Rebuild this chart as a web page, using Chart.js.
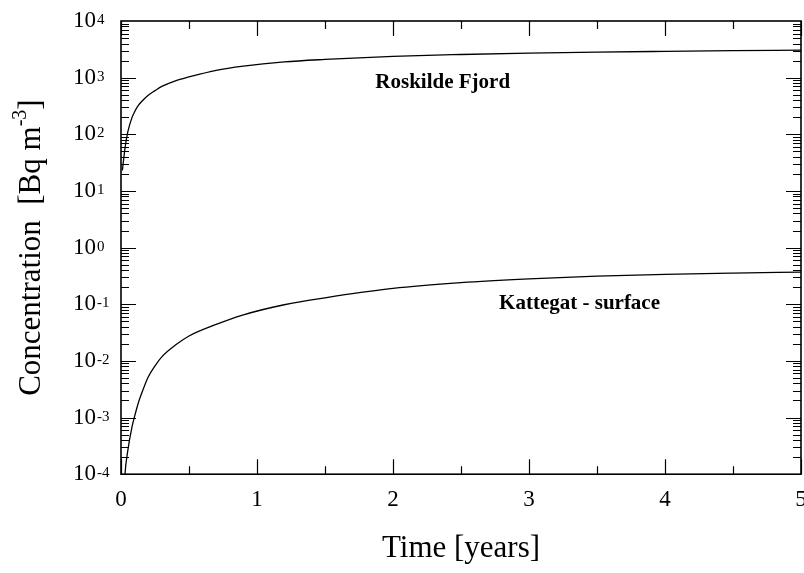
<!DOCTYPE html>
<html>
<head>
<meta charset="utf-8">
<script src="https://cdn.jsdelivr.net/npm/chart.js@4.4.1/dist/chart.umd.min.js"></script>
<style>
    body { margin: 0; background: #fff; }
    #wrap { width: 804px; height: 573px; position: relative; }
</style>
</head>
<body>
<div id="wrap"><canvas id="conc"></canvas></div>
<script>
// Time in years, concentrations in Bq m-3
const times = [0.01, 0.03, 0.05, 0.08, 0.1, 0.13, 0.15, 0.2, 0.25, 0.3, 0.4, 0.5, 0.7, 0.9, 1.2, 1.5, 2.0, 2.5, 3.0, 3.5, 4.0, 4.5, 5.0];
const roskilde = [23, 58, 110, 195, 250, 330, 375, 490, 590, 700, 880, 1030, 1350, 1600, 1900, 2100, 2380, 2560, 2700, 2820, 2910, 2990, 3060];
const kattegat = [1.2e-5, 1.05e-4, 2.6e-4, 6.7e-4, 1.05e-3, 1.9e-3, 2.6e-3, 5.2e-3, 8.2e-3, 0.0118, 0.019, 0.0275, 0.044, 0.065, 0.098, 0.13, 0.19, 0.24, 0.28, 0.313, 0.337, 0.355, 0.37];

// Axis ticks
const xTicks = [0, 0.5, 1, 1.5, 2, 2.5, 3, 3.5, 4, 4.5, 5];
const yExponents = [-4, -3, -2, -1, 0, 1, 2, 3, 4];

// Curve labels: [text, x (years), y (Bq m-3)]
const curveLabels = [
    ['Roskilde Fjord', 1.87, 830],
    ['Kattegat - surface', 2.78, 0.104]
];

const serif = "'Liberation Serif', 'Times New Roman', serif";

function toPoints(vals) {
    return times.map((t, i) => ({ x: t, y: vals[i] }));
}

// Frame, inward ticks, y labels, y title, curve names
const framePlugin = {
    id: 'frame',
    afterDraw(chart) {
        const ctx = chart.ctx;
        const a = chart.chartArea;
        const xs = chart.scales.x;
        const ys = chart.scales.y;
        ctx.save();
        ctx.strokeStyle = '#000';
        ctx.lineWidth = 1.2;

        // x ticks top and bottom
        xTicks.forEach(v => {
            const px = Math.round(xs.getPixelForValue(v)) + 0.5;
            const len = Number.isInteger(v) ? 15 : 8;
            ctx.beginPath();
            ctx.moveTo(px, a.bottom); ctx.lineTo(px, a.bottom - len);
            ctx.moveTo(px, a.top); ctx.lineTo(px, a.top + len);
            ctx.stroke();
        });

        // y ticks left and right
        for (let e = yExponents[0]; e < yExponents[yExponents.length - 1]; e++) {
            for (let m = 1; m <= 9; m++) {
                const py = Math.round(ys.getPixelForValue(m * Math.pow(10, e))) + 0.5;
                const len = m === 1 ? 15 : 8;
                ctx.beginPath();
                ctx.moveTo(a.left, py); ctx.lineTo(a.left + len, py);
                ctx.moveTo(a.right, py); ctx.lineTo(a.right - len, py);
                ctx.stroke();
            }
        }

        // box
        ctx.lineWidth = 1.6;
        ctx.strokeRect(a.left, a.top, a.right - a.left, a.bottom - a.top);

        // y tick labels 10^n
        ctx.fillStyle = '#000';
        yExponents.forEach(e => {
            const py = ys.getPixelForValue(Math.pow(10, e));
            ctx.font = '23px ' + serif;
            ctx.textAlign = 'left';
            ctx.textBaseline = 'middle';
            ctx.fillText('10', 73, py);
            const w = ctx.measureText('10').width;
            ctx.font = '15px ' + serif;
            ctx.textBaseline = 'alphabetic';
            ctx.fillText(String(e), 73 + w + 1, py + 3);
        });

        // y title with superscript, centred on the plot height
        ctx.save();
        ctx.translate(32, (a.top + a.bottom) / 2);
        ctx.rotate(-Math.PI / 2);
        const big = '31px ' + serif, small = '20px ' + serif;
        const parts = [['Concentration  [Bq m', big, 0], ['-3', small, -11], [']', big, 0]];
        let total = 0;
        parts.forEach(p => { ctx.font = p[1]; total += ctx.measureText(p[0]).width; });
        let cx = -total / 2;
        ctx.textAlign = 'left';
        ctx.textBaseline = 'middle';
        parts.forEach(p => {
            ctx.font = p[1];
            ctx.fillText(p[0], cx, p[2]);
            cx += ctx.measureText(p[0]).width;
        });
        ctx.restore();

        // curve names
        ctx.font = 'bold 21px ' + serif;
        ctx.textAlign = 'left';
        ctx.textBaseline = 'middle';
        curveLabels.forEach(l => {
            ctx.fillText(l[0], xs.getPixelForValue(l[1]), ys.getPixelForValue(l[2]));
        });
        ctx.restore();
    }
};

new Chart(document.getElementById('conc').getContext('2d'), {
    type: 'scatter',
    data: {
        datasets: [{
            label: 'Roskilde Fjord',
            data: toPoints(roskilde),
            showLine: true,
            borderColor: '#000',
            borderWidth: 1.3,
            pointRadius: 0,
            cubicInterpolationMode: 'monotone'
        }, {
            label: 'Kattegat - surface',
            data: toPoints(kattegat),
            showLine: true,
            borderColor: '#000',
            borderWidth: 1.3,
            pointRadius: 0,
            cubicInterpolationMode: 'monotone'
        }]
    },
    options: {
        responsive: true,
        maintainAspectRatio: false,
        animation: false,
        layout: { padding: { left: 121, right: 3, top: 21, bottom: 6 } },
        plugins: { legend: { display: false }, tooltip: { enabled: false } },
        scales: {
            x: {
                type: 'linear',
                min: 0,
                max: 5,
                grid: { display: false, drawTicks: false },
                border: { display: false },
                // let the plot run to the right edge, labels may overhang
                afterFit(scale) {
                    scale.paddingLeft = 0;
                    scale.paddingRight = 0;
                },
                ticks: {
                    stepSize: 1,
                    padding: 12,
                    color: '#000',
                    font: { family: serif, size: 23 },
                    callback: v => String(v)
                },
                title: {
                    display: true,
                    text: 'Time [years]',
                    color: '#000',
                    font: { family: serif, size: 31 },
                    padding: { top: 4, bottom: 0 }
                }
            },
            y: {
                type: 'logarithmic',
                min: 1e-4,
                max: 1e4,
                display: false
            }
        }
    },
    plugins: [framePlugin]
});
</script>
</body>
</html>
